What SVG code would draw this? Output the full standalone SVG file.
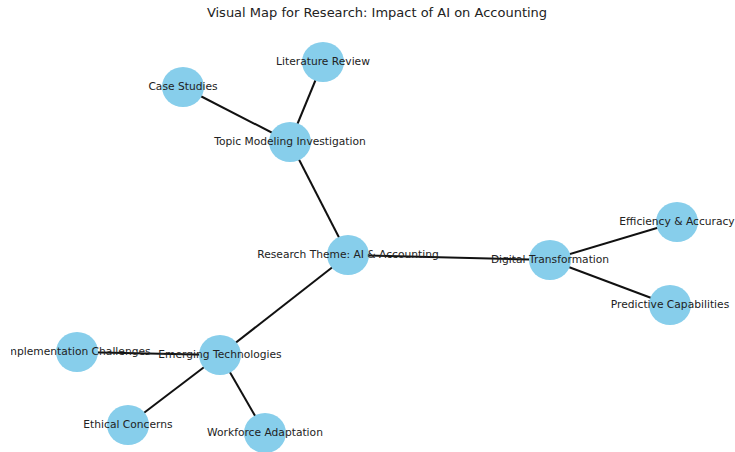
<svg xmlns="http://www.w3.org/2000/svg" width="735" height="452" viewBox="0 0 735 452">
<style>
.n{fill:#87ceeb}
.e{stroke:#111;stroke-width:2;fill:none}
.l{font-family:"DejaVu Sans",sans-serif;font-size:10.7px;fill:#222;text-anchor:middle;dominant-baseline:central}
.t{font-family:"DejaVu Sans",sans-serif;font-size:13px;fill:#222;text-anchor:middle}
</style>
<defs><clipPath id="ax"><rect x="11" y="0" width="724" height="452"/></clipPath></defs>
<rect width="735" height="452" fill="#fff"/>
<text class="t" x="377" y="17">Visual Map for Research: Impact of AI on Accounting</text>
<g id="edges">
<line class="e" x1="290" y1="142" x2="323" y2="62"/>
<line class="e" x1="290" y1="142" x2="183" y2="87"/>
<line class="e" x1="290" y1="142" x2="348" y2="255"/>
<line class="e" x1="348" y1="255" x2="550" y2="260"/>
<line class="e" x1="348" y1="255" x2="220" y2="355"/>
<line class="e" x1="550" y1="260" x2="677" y2="222"/>
<line class="e" x1="550" y1="260" x2="670" y2="305"/>
<line class="e" x1="220" y1="355" x2="77" y2="352"/>
<line class="e" x1="220" y1="355" x2="128" y2="425"/>
<line class="e" x1="220" y1="355" x2="265" y2="433"/>
</g>
<g clip-path="url(#ax)">
<g id="n-lit"><ellipse class="n" cx="323" cy="62" rx="21" ry="20"/><text class="l" x="323" y="61">Literature Review</text></g>
<g id="n-case"><ellipse class="n" cx="183" cy="87" rx="21" ry="20"/><text class="l" x="183" y="86">Case Studies</text></g>
<g id="n-topic"><ellipse class="n" cx="290" cy="142" rx="21" ry="20"/><text class="l" x="290" y="141">Topic Modeling Investigation</text></g>
<g id="n-theme"><ellipse class="n" cx="348" cy="255" rx="21" ry="20"/><text class="l" x="348" y="254">Research Theme: AI &amp; Accounting</text></g>
<g id="n-digital"><ellipse class="n" cx="550" cy="260" rx="21" ry="20"/><text class="l" x="550" y="259">Digital Transformation</text></g>
<g id="n-eff"><ellipse class="n" cx="677" cy="222" rx="21" ry="20"/><text class="l" x="677" y="221">Efficiency &amp; Accuracy</text></g>
<g id="n-pred"><ellipse class="n" cx="670" cy="305" rx="21" ry="20"/><text class="l" x="670" y="304">Predictive Capabilities</text></g>
<g id="n-emerg"><ellipse class="n" cx="220" cy="355" rx="21" ry="20"/><text class="l" x="220" y="354">Emerging Technologies</text></g>
<g id="n-impl"><ellipse class="n" cx="77" cy="352" rx="21" ry="20"/><text class="l" x="77" y="351">Implementation Challenges</text></g>
<g id="n-eth"><ellipse class="n" cx="128" cy="425" rx="21" ry="20"/><text class="l" x="128" y="424">Ethical Concerns</text></g>
<g id="n-work"><ellipse class="n" cx="265" cy="433" rx="21" ry="20"/><text class="l" x="265" y="432">Workforce Adaptation</text></g>
</g>
</svg>
